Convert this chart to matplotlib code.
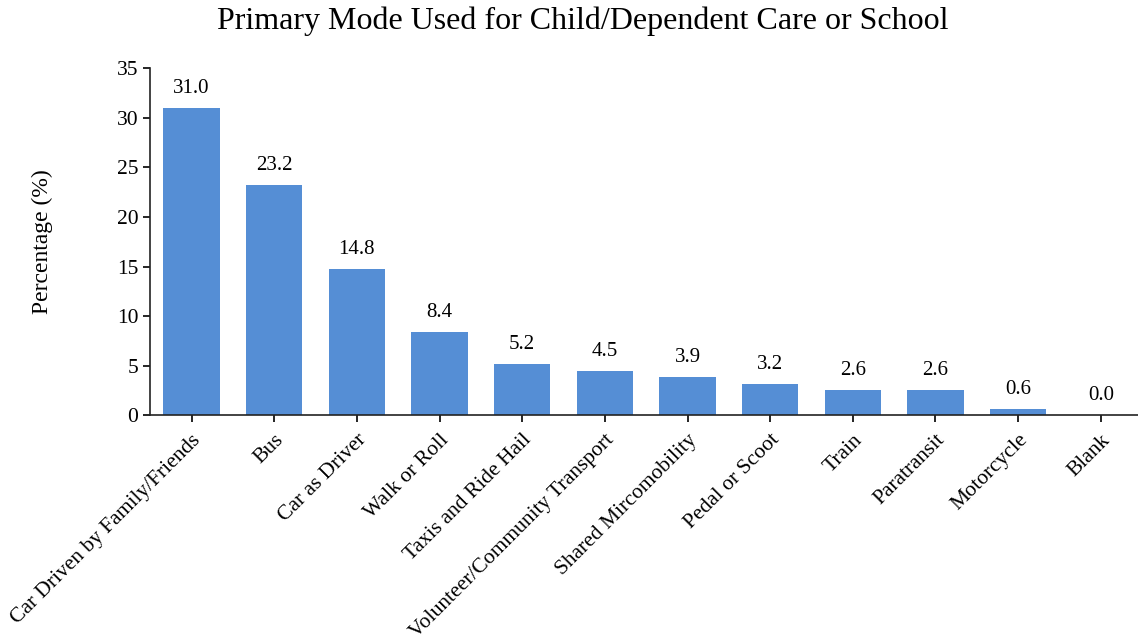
import matplotlib
matplotlib.use("Agg")
import matplotlib.pyplot as plt

categories = [
    "Car Driven by Family/Friends", "Bus", "Car as Driver", "Walk or Roll",
    "Taxis and Ride Hail", "Volunteer/Community Transport",
    "Shared Mircomobility", "Pedal or Scoot", "Train", "Paratransit",
    "Motorcycle", "Blank",
]
percentages = [31.0, 23.2, 14.8, 8.4, 5.2, 4.5, 3.9, 3.2, 2.6, 2.6, 0.6, 0.0]
y_ticks = [0, 5, 10, 15, 20, 25, 30, 35]

plt.rcParams["font.family"] = ["Liberation Serif", "DejaVu Serif"]

fig = plt.figure(figsize=(11.38, 6.37), dpi=100)
ax = fig.add_axes([0.132, 0.348, 0.868, 0.545])

x = range(len(categories))
bars = ax.bar(x, percentages, width=0.68, color="#558ED5")

for rect, val in zip(bars, percentages):
    ax.text(rect.get_x() + rect.get_width() / 2, val + 1.0, f"{val:.1f}",
            ha="center", va="bottom", fontsize=15)

ax.set_xlim(-0.5, 11.45)
ax.set_ylim(0, 35)
ax.set_yticks(y_ticks)
ax.set_xticks(list(x))
ax.set_xticklabels(categories, rotation=45, ha="right", rotation_mode="anchor",
                   fontsize=15.5)
ax.tick_params(axis="y", labelsize=15.5, direction="out", length=5, width=1.2)
ax.tick_params(axis="x", direction="out", length=5, width=1.2, pad=6)

for side in ("top", "right"):
    ax.spines[side].set_visible(False)
for side in ("left", "bottom"):
    ax.spines[side].set_linewidth(1.2)
    ax.spines[side].set_color("#222222")

ax.set_ylabel("Percentage (%)", fontsize=17, labelpad=46)
fig.suptitle("Primary Mode Used for Child/Dependent Care or School",
             fontsize=23, x=0.512, y=0.99)

fig.savefig("out.png", dpi=100)
